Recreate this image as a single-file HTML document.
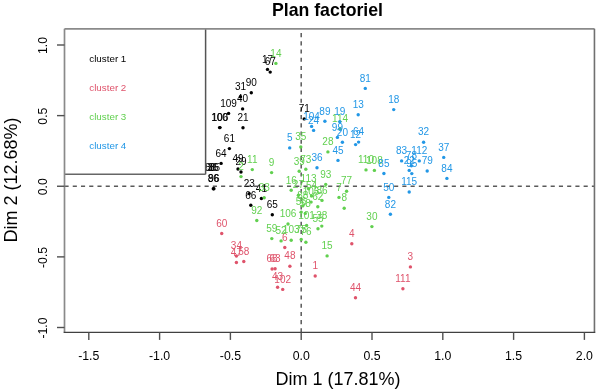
<!DOCTYPE html><html><head><meta charset="utf-8"><title>Plan factoriel</title><style>html,body{margin:0;padding:0;background:#fff;width:597px;height:392px;overflow:hidden}svg{display:block;will-change:transform}text{font-family:"Liberation Sans",sans-serif}</style></head><body>
<svg width="597" height="392" viewBox="0 0 597 392">
<rect width="597" height="392" fill="#fff"/>
<line x1="64.50" y1="186.25" x2="594.45" y2="186.25" stroke="#5a5a5a" stroke-width="1.5" stroke-dasharray="4.12 4.12"/>
<line x1="301.20" y1="332.40" x2="301.20" y2="28.85" stroke="#5a5a5a" stroke-width="1.5" stroke-dasharray="4.1 4.1"/>
<g fill="#000000">
<circle cx="267.5" cy="69.4" r="1.7"/>
<circle cx="270.2" cy="72.1" r="1.7"/>
<circle cx="251.3" cy="92.7" r="1.7"/>
<circle cx="240.5" cy="96.8" r="1.7"/>
<circle cx="242.6" cy="108.9" r="1.7"/>
<circle cx="228.6" cy="113.4" r="1.7"/>
<circle cx="219.6" cy="127.6" r="1.7"/>
<circle cx="220.0" cy="127.6" r="1.7"/>
<circle cx="243.0" cy="127.8" r="1.7"/>
<circle cx="229.4" cy="148.6" r="1.7"/>
<circle cx="221.1" cy="163.4" r="1.7"/>
<circle cx="213.9" cy="188.8" r="1.7"/>
<circle cx="213.3" cy="188.8" r="1.7"/>
<circle cx="238.0" cy="169.0" r="1.7"/>
<circle cx="241.0" cy="172.0" r="1.7"/>
<circle cx="249.2" cy="193.6" r="1.7"/>
<circle cx="250.8" cy="205.3" r="1.7"/>
<circle cx="261.4" cy="198.5" r="1.7"/>
<circle cx="272.3" cy="214.8" r="1.7"/>
<circle cx="304.2" cy="118.9" r="1.7"/>
<text x="267.5" y="62.6" font-size="10" text-anchor="middle">17</text>
<text x="270.2" y="65.3" font-size="10" text-anchor="middle">67</text>
<text x="251.3" y="85.9" font-size="10" text-anchor="middle">90</text>
<text x="240.5" y="90.0" font-size="10" text-anchor="middle">31</text>
<text x="242.6" y="102.1" font-size="10" text-anchor="middle">40</text>
<text x="228.6" y="106.6" font-size="10" text-anchor="middle">109</text>
<text x="219.6" y="120.8" font-size="10" text-anchor="middle">100</text>
<text x="220.0" y="120.8" font-size="10" text-anchor="middle">106</text>
<text x="243.0" y="121.0" font-size="10" text-anchor="middle">21</text>
<text x="229.4" y="141.8" font-size="10" text-anchor="middle">61</text>
<text x="221.1" y="156.6" font-size="10" text-anchor="middle">64</text>
<text x="210.5" y="170.7" font-size="10" text-anchor="middle">88</text>
<text x="212.8" y="170.7" font-size="10" text-anchor="middle">36</text>
<text x="214.6" y="170.7" font-size="10" text-anchor="middle">85</text>
<text x="213.9" y="182.0" font-size="10" text-anchor="middle">96</text>
<text x="213.3" y="182.0" font-size="10" text-anchor="middle">86</text>
<text x="238.0" y="162.2" font-size="10" text-anchor="middle">49</text>
<text x="241.0" y="165.2" font-size="10" text-anchor="middle">29</text>
<text x="249.2" y="186.8" font-size="10" text-anchor="middle">23</text>
<text x="250.8" y="198.5" font-size="10" text-anchor="middle">66</text>
<text x="261.4" y="191.7" font-size="10" text-anchor="middle">41</text>
<text x="272.3" y="208.0" font-size="10" text-anchor="middle">65</text>
<text x="304.2" y="112.1" font-size="10" text-anchor="middle">71</text>
</g>
<g fill="#DF536B">
<circle cx="221.7" cy="233.5" r="1.7"/>
<circle cx="236.4" cy="256.0" r="1.7"/>
<circle cx="236.4" cy="262.5" r="1.7"/>
<circle cx="243.8" cy="261.5" r="1.7"/>
<circle cx="284.8" cy="247.5" r="1.7"/>
<circle cx="272.1" cy="269.0" r="1.7"/>
<circle cx="275.1" cy="268.8" r="1.7"/>
<circle cx="289.9" cy="266.2" r="1.7"/>
<circle cx="315.2" cy="276.0" r="1.7"/>
<circle cx="277.6" cy="287.2" r="1.7"/>
<circle cx="282.7" cy="289.4" r="1.7"/>
<circle cx="351.8" cy="243.8" r="1.7"/>
<circle cx="410.4" cy="266.9" r="1.7"/>
<circle cx="402.9" cy="288.7" r="1.7"/>
<circle cx="355.5" cy="297.8" r="1.7"/>
<text x="221.7" y="226.7" font-size="10" text-anchor="middle">60</text>
<text x="236.4" y="249.2" font-size="10" text-anchor="middle">34</text>
<text x="236.4" y="255.7" font-size="10" text-anchor="middle">47</text>
<text x="243.8" y="254.7" font-size="10" text-anchor="middle">58</text>
<text x="284.8" y="240.7" font-size="10" text-anchor="middle">6</text>
<text x="272.1" y="262.2" font-size="10" text-anchor="middle">68</text>
<text x="275.1" y="262.0" font-size="10" text-anchor="middle">63</text>
<text x="289.9" y="259.4" font-size="10" text-anchor="middle">48</text>
<text x="315.2" y="269.2" font-size="10" text-anchor="middle">1</text>
<text x="277.6" y="280.4" font-size="10" text-anchor="middle">43</text>
<text x="282.7" y="282.6" font-size="10" text-anchor="middle">102</text>
<text x="351.8" y="237.0" font-size="10" text-anchor="middle">4</text>
<text x="410.4" y="260.1" font-size="10" text-anchor="middle">3</text>
<text x="402.9" y="281.9" font-size="10" text-anchor="middle">111</text>
<text x="355.5" y="291.0" font-size="10" text-anchor="middle">44</text>
</g>
<g fill="#61D04F">
<circle cx="275.9" cy="63.4" r="1.7"/>
<circle cx="241.0" cy="176.6" r="1.7"/>
<circle cx="252.3" cy="169.6" r="1.7"/>
<circle cx="271.6" cy="172.6" r="1.7"/>
<circle cx="300.8" cy="147.0" r="1.7"/>
<circle cx="299.2" cy="171.3" r="1.7"/>
<circle cx="305.8" cy="169.3" r="1.7"/>
<circle cx="291.2" cy="190.3" r="1.7"/>
<circle cx="308.6" cy="188.8" r="1.7"/>
<circle cx="298.4" cy="195.2" r="1.7"/>
<circle cx="264.2" cy="197.7" r="1.7"/>
<circle cx="256.8" cy="220.5" r="1.7"/>
<circle cx="288.0" cy="224.0" r="1.7"/>
<circle cx="271.8" cy="238.6" r="1.7"/>
<circle cx="281.1" cy="240.9" r="1.7"/>
<circle cx="291.2" cy="240.2" r="1.7"/>
<circle cx="301.2" cy="239.5" r="1.7"/>
<circle cx="305.9" cy="242.2" r="1.7"/>
<circle cx="306.6" cy="225.5" r="1.7"/>
<circle cx="321.8" cy="226.1" r="1.7"/>
<circle cx="318.0" cy="228.8" r="1.7"/>
<circle cx="327.1" cy="255.9" r="1.7"/>
<circle cx="325.7" cy="184.4" r="1.7"/>
<circle cx="346.6" cy="191.2" r="1.7"/>
<circle cx="339.0" cy="197.4" r="1.7"/>
<circle cx="344.2" cy="208.2" r="1.7"/>
<circle cx="371.9" cy="226.6" r="1.7"/>
<circle cx="327.9" cy="151.9" r="1.7"/>
<circle cx="340.1" cy="128.7" r="1.7"/>
<circle cx="366.0" cy="169.9" r="1.7"/>
<circle cx="374.4" cy="170.4" r="1.7"/>
<circle cx="311.5" cy="196.0" r="1.7"/>
<circle cx="311.1" cy="202.1" r="1.7"/>
<circle cx="322.0" cy="200.4" r="1.7"/>
<circle cx="302.7" cy="205.9" r="1.7"/>
<circle cx="317.8" cy="206.7" r="1.7"/>
<circle cx="301.2" cy="212.1" r="1.7"/>
<circle cx="305.3" cy="213.4" r="1.7"/>
<text x="275.9" y="56.6" font-size="10" text-anchor="middle">14</text>
<text x="241.0" y="169.8" font-size="10" text-anchor="middle">2</text>
<text x="252.3" y="162.8" font-size="10" text-anchor="middle">11</text>
<text x="271.6" y="165.8" font-size="10" text-anchor="middle">9</text>
<text x="300.8" y="140.2" font-size="10" text-anchor="middle">35</text>
<text x="299.2" y="164.5" font-size="10" text-anchor="middle">39</text>
<text x="305.8" y="162.5" font-size="10" text-anchor="middle">73</text>
<text x="291.2" y="183.5" font-size="10" text-anchor="middle">16</text>
<text x="308.6" y="182.0" font-size="10" text-anchor="middle">113</text>
<text x="298.4" y="188.4" font-size="10" text-anchor="middle">27</text>
<text x="264.2" y="190.9" font-size="10" text-anchor="middle">33</text>
<text x="256.8" y="213.7" font-size="10" text-anchor="middle">92</text>
<text x="288.0" y="217.2" font-size="10" text-anchor="middle">106</text>
<text x="271.8" y="231.8" font-size="10" text-anchor="middle">59</text>
<text x="281.1" y="234.1" font-size="10" text-anchor="middle">52</text>
<text x="291.2" y="233.4" font-size="10" text-anchor="middle">103</text>
<text x="301.2" y="232.7" font-size="10" text-anchor="middle">75</text>
<text x="305.9" y="235.4" font-size="10" text-anchor="middle">76</text>
<text x="306.6" y="218.7" font-size="10" text-anchor="middle">101</text>
<text x="321.8" y="219.3" font-size="10" text-anchor="middle">38</text>
<text x="318.0" y="222.0" font-size="10" text-anchor="middle">55</text>
<text x="327.1" y="249.1" font-size="10" text-anchor="middle">15</text>
<text x="325.7" y="177.6" font-size="10" text-anchor="middle">93</text>
<text x="346.6" y="184.4" font-size="10" text-anchor="middle">77</text>
<text x="339.0" y="190.6" font-size="10" text-anchor="middle">7</text>
<text x="344.2" y="201.4" font-size="10" text-anchor="middle">8</text>
<text x="371.9" y="219.8" font-size="10" text-anchor="middle">30</text>
<text x="327.9" y="145.1" font-size="10" text-anchor="middle">28</text>
<text x="340.1" y="121.9" font-size="10" text-anchor="middle">114</text>
<text x="366.0" y="163.1" font-size="10" text-anchor="middle">110</text>
<text x="374.4" y="163.6" font-size="10" text-anchor="middle">108</text>
<text x="311.5" y="189.2" font-size="10" text-anchor="middle">54</text>
<text x="311.1" y="195.3" font-size="10" text-anchor="middle">105</text>
<text x="322.0" y="193.6" font-size="10" text-anchor="middle">86</text>
<text x="302.7" y="199.1" font-size="10" text-anchor="middle">88</text>
<text x="317.8" y="199.9" font-size="10" text-anchor="middle">62</text>
<text x="301.2" y="205.3" font-size="10" text-anchor="middle">56</text>
<text x="305.3" y="206.6" font-size="10" text-anchor="middle">58</text>
</g>
<g fill="#2297E6">
<circle cx="365.3" cy="88.4" r="1.7"/>
<circle cx="393.7" cy="109.6" r="1.7"/>
<circle cx="358.2" cy="114.8" r="1.7"/>
<circle cx="324.9" cy="121.3" r="1.7"/>
<circle cx="339.8" cy="121.8" r="1.7"/>
<circle cx="311.6" cy="126.4" r="1.7"/>
<circle cx="313.6" cy="130.4" r="1.7"/>
<circle cx="337.4" cy="137.4" r="1.7"/>
<circle cx="342.4" cy="142.3" r="1.7"/>
<circle cx="355.6" cy="144.6" r="1.7"/>
<circle cx="358.6" cy="142.1" r="1.7"/>
<circle cx="289.7" cy="147.9" r="1.7"/>
<circle cx="338.0" cy="160.4" r="1.7"/>
<circle cx="317.0" cy="167.7" r="1.7"/>
<circle cx="423.6" cy="142.2" r="1.7"/>
<circle cx="443.7" cy="157.4" r="1.7"/>
<circle cx="401.6" cy="160.9" r="1.7"/>
<circle cx="419.3" cy="160.9" r="1.7"/>
<circle cx="411.4" cy="165.7" r="1.7"/>
<circle cx="409.2" cy="170.4" r="1.7"/>
<circle cx="411.8" cy="173.6" r="1.7"/>
<circle cx="427.2" cy="171.0" r="1.7"/>
<circle cx="446.9" cy="178.4" r="1.7"/>
<circle cx="383.9" cy="173.5" r="1.7"/>
<circle cx="409.2" cy="192.0" r="1.7"/>
<circle cx="388.8" cy="197.4" r="1.7"/>
<circle cx="390.4" cy="214.3" r="1.7"/>
<text x="365.3" y="81.6" font-size="10" text-anchor="middle">81</text>
<text x="393.7" y="102.8" font-size="10" text-anchor="middle">18</text>
<text x="358.2" y="108.0" font-size="10" text-anchor="middle">13</text>
<text x="324.9" y="114.5" font-size="10" text-anchor="middle">89</text>
<text x="339.8" y="115.0" font-size="10" text-anchor="middle">19</text>
<text x="311.6" y="119.6" font-size="10" text-anchor="middle">104</text>
<text x="313.6" y="123.6" font-size="10" text-anchor="middle">24</text>
<text x="337.4" y="130.6" font-size="10" text-anchor="middle">99</text>
<text x="342.4" y="135.5" font-size="10" text-anchor="middle">20</text>
<text x="355.6" y="137.8" font-size="10" text-anchor="middle">12</text>
<text x="358.6" y="135.3" font-size="10" text-anchor="middle">64</text>
<text x="289.7" y="141.1" font-size="10" text-anchor="middle">5</text>
<text x="338.0" y="153.6" font-size="10" text-anchor="middle">45</text>
<text x="317.0" y="160.9" font-size="10" text-anchor="middle">36</text>
<text x="423.6" y="135.4" font-size="10" text-anchor="middle">32</text>
<text x="443.7" y="150.6" font-size="10" text-anchor="middle">37</text>
<text x="401.6" y="154.1" font-size="10" text-anchor="middle">83</text>
<text x="419.3" y="154.1" font-size="10" text-anchor="middle">112</text>
<text x="411.4" y="158.9" font-size="10" text-anchor="middle">78</text>
<text x="409.2" y="163.6" font-size="10" text-anchor="middle">22</text>
<text x="411.8" y="166.8" font-size="10" text-anchor="middle">95</text>
<text x="427.2" y="164.2" font-size="10" text-anchor="middle">79</text>
<text x="446.9" y="171.6" font-size="10" text-anchor="middle">84</text>
<text x="383.9" y="166.7" font-size="10" text-anchor="middle">85</text>
<text x="409.2" y="185.2" font-size="10" text-anchor="middle">115</text>
<text x="388.8" y="190.6" font-size="10" text-anchor="middle">50</text>
<text x="390.4" y="207.5" font-size="10" text-anchor="middle">82</text>
</g>
<rect x="64.5" y="28.85" width="141.10" height="145.45" fill="#fff"/>
<line x1="205.60" y1="28.85" x2="205.60" y2="174.30" stroke="#555" stroke-width="1.5"/>
<line x1="64.50" y1="174.30" x2="205.60" y2="174.30" stroke="#666" stroke-width="1.5"/>
<text x="89.3" y="62.0" font-size="9.8" fill="#000000">cluster 1</text>
<text x="89.3" y="91.0" font-size="9.8" fill="#DF536B">cluster 2</text>
<text x="89.3" y="120.0" font-size="9.8" fill="#61D04F">cluster 3</text>
<text x="89.3" y="149.0" font-size="9.8" fill="#2297E6">cluster 4</text>
<line x1="64.50" y1="28.85" x2="594.45" y2="28.85" stroke="#8a8a8a" stroke-width="1.7"/>
<line x1="64.50" y1="28.85" x2="64.50" y2="332.40" stroke="#8a8a8a" stroke-width="1.7"/>
<line x1="594.45" y1="28.85" x2="594.45" y2="332.40" stroke="#707070" stroke-width="1.6"/>
<line x1="63.65" y1="332.40" x2="595.25" y2="332.40" stroke="#404040" stroke-width="1.3"/>
<line x1="88.80" y1="332.40" x2="88.80" y2="339.90" stroke="#505050" stroke-width="1.4"/>
<text x="88.8" y="359.6" font-size="12.3" text-anchor="middle">-1.5</text>
<line x1="159.60" y1="332.40" x2="159.60" y2="339.90" stroke="#505050" stroke-width="1.4"/>
<text x="159.6" y="359.6" font-size="12.3" text-anchor="middle">-1.0</text>
<line x1="230.40" y1="332.40" x2="230.40" y2="339.90" stroke="#505050" stroke-width="1.4"/>
<text x="230.4" y="359.6" font-size="12.3" text-anchor="middle">-0.5</text>
<line x1="301.20" y1="332.40" x2="301.20" y2="339.90" stroke="#505050" stroke-width="1.4"/>
<text x="301.2" y="359.6" font-size="12.3" text-anchor="middle">0.0</text>
<line x1="372.00" y1="332.40" x2="372.00" y2="339.90" stroke="#505050" stroke-width="1.4"/>
<text x="372.0" y="359.6" font-size="12.3" text-anchor="middle">0.5</text>
<line x1="442.80" y1="332.40" x2="442.80" y2="339.90" stroke="#505050" stroke-width="1.4"/>
<text x="442.8" y="359.6" font-size="12.3" text-anchor="middle">1.0</text>
<line x1="513.60" y1="332.40" x2="513.60" y2="339.90" stroke="#505050" stroke-width="1.4"/>
<text x="513.6" y="359.6" font-size="12.3" text-anchor="middle">1.5</text>
<line x1="584.40" y1="332.40" x2="584.40" y2="339.90" stroke="#505050" stroke-width="1.4"/>
<text x="584.4" y="359.6" font-size="12.3" text-anchor="middle">2.0</text>
<line x1="57.00" y1="327.50" x2="64.50" y2="327.50" stroke="#505050" stroke-width="1.4"/>
<text transform="translate(47.3 328.0) rotate(-90)" font-size="12.3" text-anchor="middle">-1.0</text>
<line x1="57.00" y1="256.88" x2="64.50" y2="256.88" stroke="#505050" stroke-width="1.4"/>
<text transform="translate(47.3 257.4) rotate(-90)" font-size="12.3" text-anchor="middle">-0.5</text>
<line x1="57.00" y1="186.25" x2="64.50" y2="186.25" stroke="#505050" stroke-width="1.4"/>
<text transform="translate(47.3 186.8) rotate(-90)" font-size="12.3" text-anchor="middle">0.0</text>
<line x1="57.00" y1="115.62" x2="64.50" y2="115.62" stroke="#505050" stroke-width="1.4"/>
<text transform="translate(47.3 116.1) rotate(-90)" font-size="12.3" text-anchor="middle">0.5</text>
<line x1="57.00" y1="45.00" x2="64.50" y2="45.00" stroke="#505050" stroke-width="1.4"/>
<text transform="translate(47.3 45.5) rotate(-90)" font-size="12.3" text-anchor="middle">1.0</text>
<text x="327.5" y="15.6" font-size="17.7" font-weight="bold" text-anchor="middle">Plan factoriel</text>
<text x="338.1" y="384.8" font-size="18" text-anchor="middle">Dim 1 (17.81%)</text>
<text transform="translate(16.8 180.1) rotate(-90)" font-size="18" text-anchor="middle">Dim 2 (12.68%)</text>
</svg></body></html>
